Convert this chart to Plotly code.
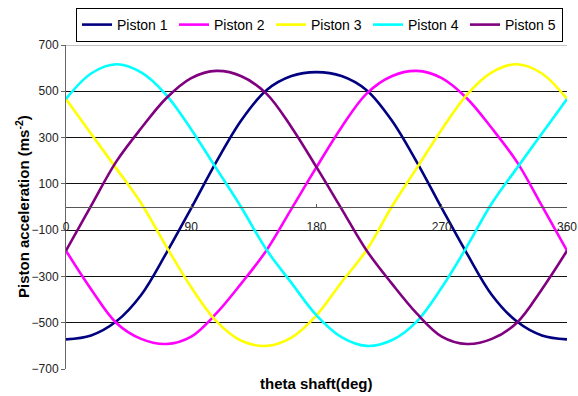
import plotly.graph_objects as go

# Crank angle samples (degrees) and piston accelerations (m/s^2)
theta = list(range(0, 361, 18))
piston_1 = [-572, -555, -495, -380, -200, -5, 195, 375, 505, 566, 583,
            566, 505, 375, 195, -5, -200, -380, -495, -555, -572]
piston_2 = [-189, -355, -500, -570, -592, -560, -460, -330, -188, -8, 172,
            345, 490, 565, 588, 557, 470, 340, 195, 5, -189]
piston_3 = [467, 317, 168, 16, -170, -347, -493, -578, -600, -564, -468,
            -325, -186, 0, 168, 335, 485, 582, 617, 577, 467]
piston_4 = [467, 577, 617, 582, 485, 335, 167, -2, -184, -328, -468,
            -562, -600, -576, -495, -348, -172, 16, 168, 318, 467]
piston_5 = [-189, 5, 195, 340, 470, 557, 588, 565, 490, 345, 172,
            -8, -188, -330, -460, -560, -592, -570, -500, -355, -189]

series_names = ["Piston 1", "Piston 2", "Piston 3", "Piston 4", "Piston 5"]
series_values = [piston_1, piston_2, piston_3, piston_4, piston_5]
series_colors = ["#000080", "#FF00FF", "#FFFF00", "#00FFFF", "#800080"]

x_ticks = [0, 90, 180, 270, 360]
y_ticks = list(range(-700, 701, 200))

FONT = "Liberation Sans, Arial, sans-serif"

fig = go.Figure()
for name, vals, col in zip(series_names, series_values, series_colors):
    fig.add_trace(go.Scatter(
        x=theta, y=vals, name=name, mode="lines",
        line=dict(color=col, width=2.6, shape="spline", smoothing=1.0),
    ))

fig.update_layout(
    width=578, height=396,
    margin=dict(l=66, r=11, t=45, b=27, autoexpand=False),
    paper_bgcolor="white", plot_bgcolor="white",
    font=dict(family=FONT, size=12, color="#000"),
    showlegend=True,
    legend=dict(
        orientation="h", xref="container", yref="container",
        x=76 / 578, y=1 - 8 / 396, xanchor="left", yanchor="top",
        bgcolor="white", bordercolor="#000", borderwidth=1,
        font=dict(family=FONT, size=14, color="#000"),
        entrywidth=52, tracegroupgap=0,
    ),
    xaxis=dict(
        range=[0, 360], tickvals=x_ticks, ticktext=[str(v) for v in x_ticks],
        anchor="free", position=0.5,
        showline=True, linecolor="#555", linewidth=1,
        ticks="inside", ticklen=3, tickcolor="#555",
        showgrid=False, zeroline=False,
        tickfont=dict(family=FONT, size=12, color="#222"),
        ticklabelstandoff=9,
    ),
    yaxis=dict(
        range=[-700, 700], tickvals=y_ticks,
        showline=True, linecolor="#666", linewidth=1,
        ticks="outside", ticklen=4, tickcolor="#666",
        showgrid=True, gridcolor="#111", gridwidth=1,
        zeroline=False,
        tickfont=dict(family=FONT, size=12, color="#222"),
    ),
    shapes=[dict(type="line", xref="paper", x0=0, x1=1, yref="y",
                 y0=700, y1=700, line=dict(color="#888", width=1))],
    annotations=[
        dict(text="<b>theta shaft(deg)</b>", xref="paper", yref="paper",
             x=0.5, y=0, yshift=-14, xanchor="center", yanchor="middle",
             showarrow=False, font=dict(family=FONT, size=15, color="#000")),
        dict(text="<b>Piston acceleration (ms<sup>-2</sup>)</b>",
             xref="paper", yref="paper", x=0, y=0.5, xshift=-44,
             xanchor="center", yanchor="middle", textangle=-90,
             showarrow=False, font=dict(family=FONT, size=15, color="#000")),
    ],
)

fig.write_html("out.html")
